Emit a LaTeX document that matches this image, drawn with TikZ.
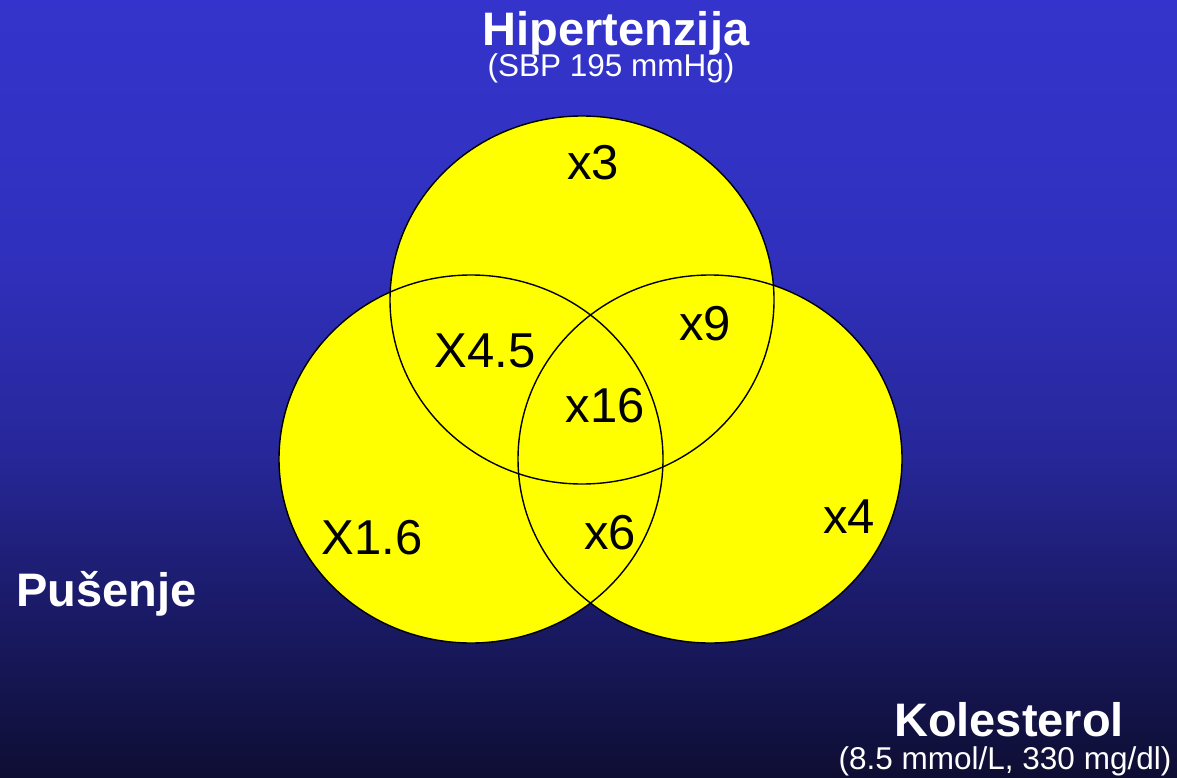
\documentclass[tikz,border=0pt]{standalone}
\usepackage{fontspec}
\setmainfont{Liberation Sans}
\usetikzlibrary{positioning}

\definecolor{bgtop}{HTML}{3434CC}
\definecolor{bgupper}{HTML}{3030BE}
\definecolor{bgmid}{HTML}{27279A}
\definecolor{bglow}{HTML}{1B1B6A}
\definecolor{bgbot}{HTML}{0E0E33}
\definecolor{vennyellow}{HTML}{FFFF00}
% visible part of the shading runs from 25bp to 75bp
\pgfdeclareverticalshading{slidebg}{100bp}{color(0bp)=(bgbot); color(25bp)=(bgbot);
  color(36.5bp)=(bglow); color(46bp)=(bgmid); color(59bp)=(bgupper);
  color(75bp)=(bgtop); color(100bp)=(bgtop)}

\begin{document}
\begin{tikzpicture}[
  x=1pt,y=-1pt,
  title/.style={text=white,font=\fontsize{47}{47}\selectfont\bfseries,inner sep=0pt,anchor=base},
  sub/.style={text=white,font=\fontsize{31.5}{31.5}\selectfont,inner sep=0pt,anchor=base},
  factor/.style={text=black,font=\fontsize{49}{49}\selectfont,inner sep=0pt,anchor=base},
  ring/.style={draw=black,line width=1.4pt}
]
% background
\shade[shading=slidebg] (0,0) rectangle (1177,778);

% the three sets
\coordinate (hyp) at (582,300);
\coordinate (smoke) at (471,459);
\coordinate (chol) at (710,459);
\foreach \c in {hyp,smoke,chol}
  \fill[vennyellow] (\c) ellipse [x radius=192, y radius=184];
\foreach \c in {hyp,smoke,chol}
  \draw[ring] (\c) ellipse [x radius=192, y radius=184];

% risk factors
\node[factor] (fHyp) at (593,180) {x3};
\node[factor] (fHypChol) at (705,340) {x9};
\node[factor] (fHypSmoke) at (485,367) {X4.5};
\node[factor] (fAll) at (605,422) {x16};
\node[factor] (fSmoke) at (372,554) {X1.6};
\node[factor] (fSmokeChol) at (610,549) {x6};
\node[factor] (fChol) at (849,533) {x4};

% labels
\node[title] (tHyp) at (616,46) {Hipertenzija};
\node[sub] (sHyp) at (611,77) {(SBP 195 mmHg)};
\node[title,anchor=base west] (tSmoke) at (16,606) {Pušenje};
\node[title] (tChol) at (1009,736) {Kolesterol};
\node[sub] (sChol) at (1005,769) {(8.5 mmol/L, 330 mg/dl)};
\end{tikzpicture}
\end{document}
